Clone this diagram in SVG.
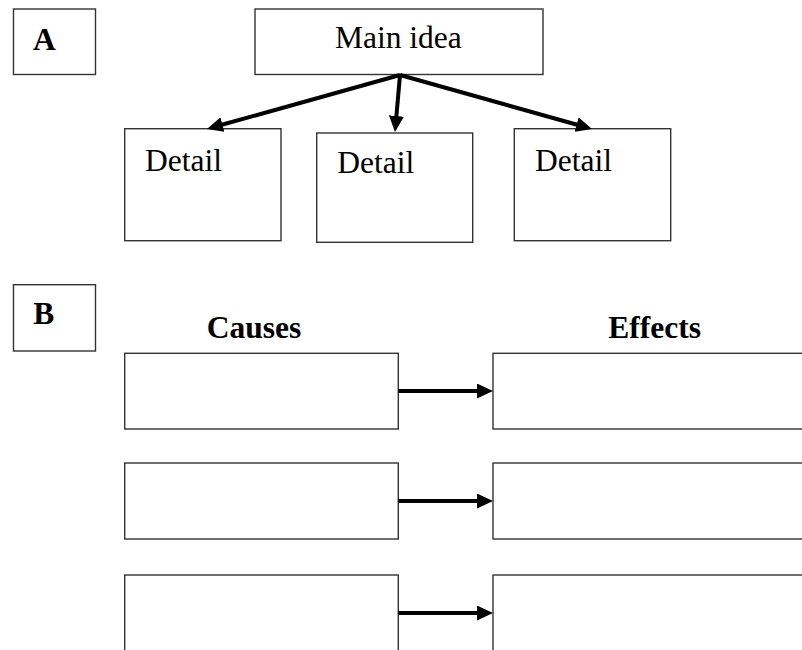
<svg xmlns="http://www.w3.org/2000/svg" width="802" height="650" viewBox="0 0 802 650">
<style>
.box{fill:#fff;stroke:#333;stroke-width:1.4}
.t{font-family:"Liberation Serif","Times New Roman",serif;font-size:31.5px;fill:#000}
.b{font-weight:bold}
.c{stroke:#000;stroke-width:4;fill:none}
</style>
<defs>
<marker id="ah" viewBox="0 0 16 15" refX="8" refY="7.5" markerWidth="16" markerHeight="15" markerUnits="userSpaceOnUse" orient="auto">
<path d="M0,0 L16,7.5 L0,15 z" fill="#000"/>
</marker>
</defs>
<rect width="802" height="650" fill="#fff"/>
<g id="labelA"><rect class="box" x="13.5" y="9" width="82" height="65.5"/><text class="t b" x="33" y="49.5">A</text></g>
<g id="main"><rect class="box" x="255" y="9" width="288" height="65.5"/><text class="t" x="335" y="48.3">Main idea</text></g>
<g id="detail1"><rect class="box" x="124.7" y="128.7" width="156.3" height="112"/><text class="t" x="145" y="170.7">Detail</text></g>
<g id="detail2"><rect class="box" x="316.7" y="133" width="156" height="109.3"/><text class="t" x="337.3" y="172.7">Detail</text></g>
<g id="detail3"><rect class="box" x="514.3" y="128.7" width="156.4" height="112"/><text class="t" x="535" y="170.7">Detail</text></g>
<g id="labelB"><rect class="box" x="13.5" y="284.7" width="82" height="66.3"/><text class="t b" x="33.3" y="324.3">B</text></g>
<g id="causesHeader"><text class="t b" x="206.7" y="338.3">Causes</text></g>
<g id="effectsHeader"><text class="t b" x="608.3" y="338.3">Effects</text></g>
<g id="cause1"><rect class="box" x="124.7" y="353.3" width="273.6" height="75.7"/></g>
<g id="cause2"><rect class="box" x="124.7" y="463" width="273.6" height="76"/></g>
<g id="cause3"><rect class="box" x="124.7" y="575" width="273.6" height="90"/></g>
<g id="effect1"><rect class="box" x="493" y="353.3" width="330" height="75.7"/></g>
<g id="effect2"><rect class="box" x="493" y="463" width="330" height="76"/></g>
<g id="effect3"><rect class="box" x="493" y="575" width="330" height="90"/></g>
<g id="connectors">
<line class="c" x1="400" y1="75" x2="214.7" y2="126.8" marker-end="url(#ah)"/>
<line class="c" x1="400" y1="75" x2="395.7" y2="124" marker-end="url(#ah)"/>
<line class="c" x1="400" y1="75" x2="584.3" y2="126.8" marker-end="url(#ah)"/>
<line class="c" x1="398.3" y1="391" x2="485" y2="391" marker-end="url(#ah)"/>
<line class="c" x1="398.3" y1="501" x2="485" y2="501" marker-end="url(#ah)"/>
<line class="c" x1="398.3" y1="613" x2="485" y2="613" marker-end="url(#ah)"/>
</g>
</svg>
